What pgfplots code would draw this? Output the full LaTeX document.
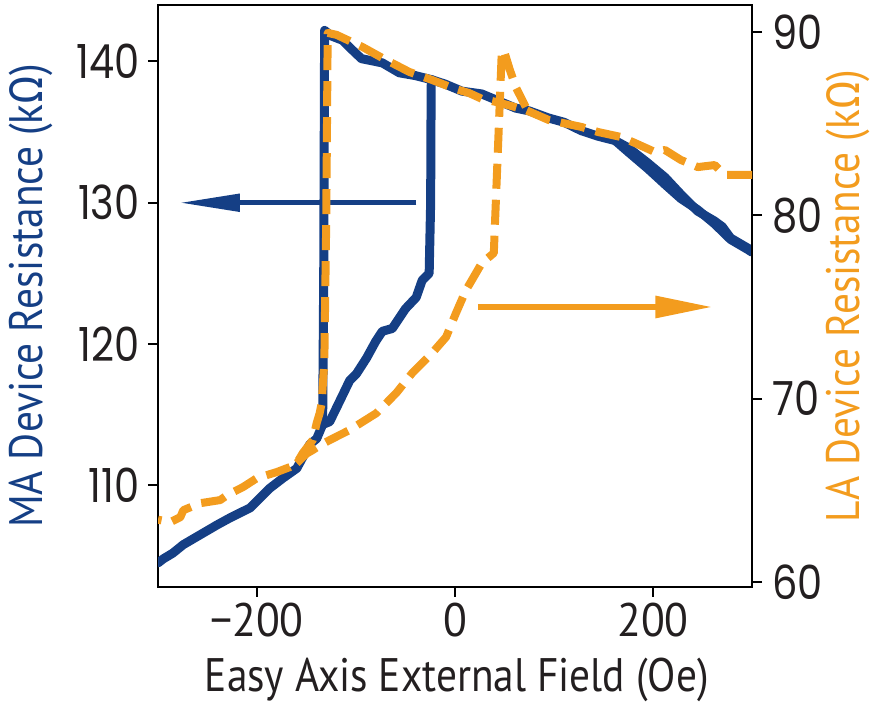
\documentclass[border=0pt]{standalone}
\usepackage{fontspec}
\setmainfont{PT Sans}[FakeStretch=0.88]
\newfontfamily\tickfont{PT Sans}[FakeStretch=0.93]
\newfontfamily\gothic{Poppins}[FakeStretch=0.85]
\newfontfamily\greek{Fira Sans}[FakeStretch=0.88]
\usepackage{pgfplots}
\pgfplotsset{compat=1.18}
\usetikzlibrary{arrows.meta}

\definecolor{mablue}{RGB}{21,63,133}
\definecolor{laorange}{RGB}{243,156,30}
\definecolor{ink}{RGB}{35,31,32}

\pgfplotsset{
  common/.style={
    scale only axis, width=297pt, height=291pt,
    at={(0,0)}, anchor=south west,
    xmin=-300, xmax=300,
    axis line style={line width=1pt, black},
    tick style={line width=1pt, black},
    tick align=outside, major tick length=5pt,
  },
  ma/.style={mablue, line width=4.5pt, line join=round, line cap=round},
  la/.style={laorange, line width=4pt, line join=round, line cap=butt, dash pattern=on 12.5pt off 5.5pt},
}

\begin{document}
\begin{tikzpicture}
\useasboundingbox (-79pt,-58.5pt) rectangle (356pt,293.5pt);

% left axis: MA device (solid blue)
\begin{axis}[common,
  ymin=102.8, ymax=144,
  xtick={-200,0,200}, xticklabels={−200,0,200}, xtick pos=left,
  ytick={110,120,130,140}, yticklabels={110,120,130,140}, ytick pos=left,
  xticklabel style={font=\tickfont\fontsize{23.5}{23.5}\selectfont, text=ink, inner sep=0pt, yshift=-3pt},
  yticklabel style={font=\gothic\fontsize{23.5}{23.5}\selectfont, text=ink, inner sep=0pt, xshift=-4pt},
  xlabel={Easy Axis External Field (Oe)},
  ylabel={MA Device Resistance (k{\greek Ω})},
  every axis x label/.style={at={(axis description cs:0.503,-0.1598)}, anchor=center,
    font=\fontsize{23.5}{23.5}\selectfont, text=ink},
  every axis y label/.style={at={(axis description cs:-0.2138,0.5)}, anchor=center, rotate=90,
    font=\fontsize{23.5}{23.5}\selectfont, text=mablue},
]
% sweep down: top branch, switch at -132 Oe, lower branch
\addplot[ma] coordinates {
 (300,126.6)(295.5,126.8)(278.4,127.5)(270,128.3)(262.3,128.7)(245.2,129.4)(228.1,130.6)
 (212.1,131.8)(195.0,132.8)(174.9,133.9)(161.8,134.4)(145,134.7)(127.6,135.1)(110,135.7)
 (94.5,136.0)(75,136.5)(61.3,136.7)(44.2,137.2)(27.1,137.7)(7.0,137.9)(-10,138.4)
 (-23.1,138.7)(-40,139.0)(-56.3,139.2)(-73.4,139.9)(-94.5,140.2)(-105,140.9)(-113.6,141.5)
 (-124.6,141.8)(-131.7,142.2)(-132.6,125)(-133.7,114.3)(-139.7,113.3)(-146.7,112.9)
 (-159.8,111.2)(-173.9,110.5)(-186.9,109.8)(-197.0,109.1)(-207.0,108.4)(-227.1,107.7)
 (-240.2,107.2)(-257.3,106.5)(-274.4,105.8)(-285,105.2)(-294.5,104.8)(-300,104.5)};
% sweep up: lower branch continues to -26 Oe, switch up
\addplot[ma] coordinates {
 (-133.7,114.3)(-126.6,114.5)(-119.6,115.5)(-112,116.6)(-106.5,117.4)(-99.5,117.9)
 (-89.4,119.0)(-80,120.2)(-73.4,120.9)(-63.3,121.1)(-50,122.5)(-39.2,123.3)(-33.2,124.5)
 (-26.1,125.0)(-24.6,130)(-24.1,138.3)(-23.1,138.7)};
% sweep up, high field part
\addplot[ma] coordinates {
 (161.8,134.4)(174.9,133.6)(195,132.4)(212.1,131.3)(228.1,130.3)(245.2,129.5)
 (262.3,128.5)(278.4,127.4)(295.5,126.7)(300,126.5)};
\draw[mablue, line width=2.5pt, -{Triangle[length=30pt,width=8.5pt]}]
  (axis cs:-39,130) -- (axis cs:-278,130);
\end{axis}

% right axis: LA device (dashed orange)
\begin{axis}[common,
  axis x line=none, axis y line*=right,
  ymin=59.73, ymax=91.47,
  ytick={60,70,80,90}, yticklabels={60,70,80,90},
  yticklabel style={font=\gothic\fontsize{23.5}{23.5}\selectfont, text=ink, inner sep=0pt, xshift=5pt},
  ylabel={LA Device Resistance (k{\greek Ω})},
  every axis y label/.style={at={(axis description cs:1.1616,0.5)}, anchor=center, rotate=90,
    font=\fontsize{23.5}{23.5}\selectfont, text=laorange},
]
\addplot[la] coordinates {
 (300,82.2)(295.5,82.2)(272.4,82.2)(262.3,82.74)(245.2,82.63)(228.1,83.02)(212.1,83.56)
 (202.0,83.45)(181.9,83.94)(167.8,84.27)(144.7,84.54)(127.6,84.82)(94.5,85.20)(71.4,85.74)
 (44.2,86.15)(27.1,86.35)(14.1,86.67)(0,86.9)(-23.1,87.38)(-46.2,87.82)(-73.4,88.58)
 (-93.5,89.18)(-119.6,89.84)(-128.6,89.95)(-130,80)(-132,72)(-134.7,69.76)(-136.7,69.21)
 (-139.7,68.67)(-143.7,67.74)(-153.8,67.03)(-159.8,66.49)(-166.8,66.27)(-179.9,66.00)
 (-200.0,65.67)(-214.1,65.18)(-230.1,64.74)(-237.2,64.47)(-257.3,64.30)(-274.4,63.92)
 (-277.4,63.54)(-287.4,63.27)(-300,63.4)};
\addplot[la] coordinates {
 (-159.8,66.49)(-150,67.0)(-143.7,67.20)(-135,67.5)(-126.6,67.74)(-106.5,68.29)
 (-79.4,69.21)(-59.3,70.31)(-43.2,71.40)(-23.1,72.49)(-9.0,73.36)(1.0,74.67)(11.1,75.92)
 (17.1,76.47)(27.1,77.40)(39.2,77.94)(47.2,88.85)(49.2,89.02)(55,88.0)(61.3,87.00)
 (71.4,85.91)};
\draw[laorange, line width=3pt, -{Triangle[length=28.5pt,width=10.5pt]}]
  (axis cs:23,75) -- (axis cs:260,75);
\end{axis}
\end{tikzpicture}
\end{document}
